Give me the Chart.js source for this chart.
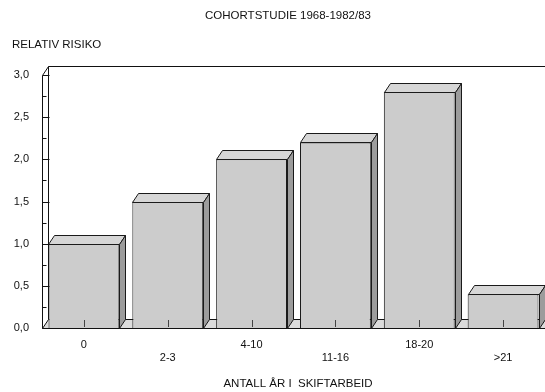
<!DOCTYPE html>
<html>
<head>
<meta charset="utf-8">
<script src="https://cdn.jsdelivr.net/npm/chart.js@4/dist/chart.umd.min.js"></script>
<style>
  html, body { margin: 0; padding: 0; background: #fff; }
  #wrap { width: 545px; height: 392px; }
</style>
</head>
<body>
<div id="wrap"><canvas id="chart" width="545" height="392"></canvas></div>
<script>
// Data
const chartTitle = 'COHORTSTUDIE 1968-1982/83';
const yTitle = 'RELATIV RISIKO';
const xTitle = 'ANTALL ÅR I  SKIFTARBEID';
const categories = ['0', '2-3', '4-10', '11-16', '18-20', '>21'];
const relativeRisk = [1.0, 1.5, 2.0, 2.2, 2.8, 0.4];
const yTickValues = [0, 0.5, 1.0, 1.5, 2.0, 2.5, 3.0];

const FONT = '"Liberation Sans", Arial, sans-serif';
const depth = { x: 6, y: 9 };

// tegner 3D-effekten rundt søylene (vegg, gulv, topp og side)
const pseudo3d = {
  id: 'pseudo3d',
  beforeDatasetsDraw(chart) {
    const { ctx, chartArea: a } = chart;
    const L = Math.round(a.left) + 0.5, B = Math.round(a.bottom) + 0.5, T = Math.round(a.top) + 0.5;
    ctx.save();
    ctx.lineWidth = 1;
    ctx.strokeStyle = '#111';

    // gulv
    ctx.fillStyle = '#dcdcdc';
    ctx.beginPath();
    ctx.moveTo(L, B);
    ctx.lineTo(L + depth.x, B - depth.y);
    ctx.lineTo(a.right + depth.x, B - depth.y);
    ctx.lineTo(a.right, B);
    ctx.closePath();
    ctx.fill();
    ctx.beginPath();
    ctx.moveTo(L + depth.x, B - depth.y);
    ctx.lineTo(a.right + depth.x, B - depth.y);
    ctx.moveTo(L, B);
    ctx.lineTo(a.right, B);
    ctx.stroke();

    // bakvegg
    ctx.beginPath();
    ctx.moveTo(L + depth.x, B - depth.y);
    ctx.lineTo(L + depth.x, T - depth.y);
    ctx.lineTo(a.right + depth.x, T - depth.y);
    ctx.stroke();

    // y-akse (front)
    ctx.beginPath();
    ctx.moveTo(L + depth.x, T - depth.y);
    ctx.lineTo(L, T);
    ctx.lineTo(L, B);
    ctx.lineTo(L + depth.x, B - depth.y);
    ctx.stroke();
    ctx.restore();
  },
  afterDatasetsDraw(chart) {
    const { ctx, chartArea: a } = chart;
    const meta = chart.getDatasetMeta(0);
    ctx.save();
    ctx.lineWidth = 1;
    ctx.strokeStyle = '#1a1a1a';
    meta.data.forEach(bar => {
      const p = bar.getProps(['x', 'y', 'base', 'width'], true);
      const l = Math.round(p.x - p.width / 2) + 0.5;
      const r = Math.round(p.x + p.width / 2) + 0.5;
      const t = Math.round(p.y) + 0.5;
      const b = Math.round(p.base) + 0.5;
      // topp
      ctx.fillStyle = '#d6d6d6';
      ctx.beginPath();
      ctx.moveTo(l, t);
      ctx.lineTo(l + depth.x, t - depth.y);
      ctx.lineTo(r + depth.x, t - depth.y);
      ctx.lineTo(r, t);
      ctx.closePath();
      ctx.fill();
      ctx.stroke();
      // side
      ctx.fillStyle = '#9c9c9c';
      ctx.beginPath();
      ctx.moveTo(r, t);
      ctx.lineTo(r + depth.x, t - depth.y);
      ctx.lineTo(r + depth.x, b - depth.y);
      ctx.lineTo(r, b);
      ctx.closePath();
      ctx.fill();
      ctx.stroke();
    });

    // små streker for kategoriene
    const xs = chart.scales.x;
    ctx.strokeStyle = '#444';
    categories.forEach((c, i) => {
      const x = Math.round(xs.getPixelForTick(i)) + 0.5;
      ctx.beginPath();
      ctx.moveTo(x, a.bottom - 8);
      ctx.lineTo(x, a.bottom - 1);
      ctx.stroke();
    });

    // y-streker (store og små)
    const ys = chart.scales.y;
    const L = Math.round(a.left) + 0.5;
    ctx.strokeStyle = '#111';
    yTickValues.forEach((v, i) => {
      const y = Math.round(ys.getPixelForValue(v)) + 0.5;
      ctx.beginPath();
      ctx.moveTo(L, y);
      ctx.lineTo(L + 7, y);
      ctx.stroke();
      if (i < yTickValues.length - 1) {
        const ym = Math.round(ys.getPixelForValue((v + yTickValues[i + 1]) / 2)) + 0.5;
        ctx.beginPath();
        ctx.moveTo(L, ym);
        ctx.lineTo(L + 4, ym);
        ctx.stroke();
      }
    });
    ctx.restore();
  },
  afterDraw(chart) {
    const { ctx } = chart;
    ctx.save();
    ctx.fillStyle = '#111';
    ctx.textBaseline = 'middle';
    ctx.font = '11.5px ' + FONT;
    ctx.textAlign = 'center';
    ctx.fillText(chartTitle, 288, 16);
    ctx.fillText(xTitle, 298, 384);
    ctx.textAlign = 'left';
    ctx.fillText(yTitle, 12, 45);
    ctx.restore();
  }
};

new Chart(document.getElementById('chart'), {
  type: 'bar',
  data: {
    labels: categories,
    datasets: [{
      data: relativeRisk,
      backgroundColor: '#cccccc',
      borderColor: '#1a1a1a',
      borderWidth: 1,
      borderSkipped: 'start',
      barPercentage: 0.845,
      categoryPercentage: 1
    }]
  },
  options: {
    responsive: false,
    animation: false,
    devicePixelRatio: 1,
    layout: { padding: { top: 75, left: 0, right: 0, bottom: 0 } },
    plugins: {
      legend: { display: false },
      title: { display: false },
      tooltip: { enabled: false }
    },
    scales: {
      x: {
        grid: { display: false, drawTicks: false },
        border: { display: false },
        ticks: {
          color: '#111',
          font: { family: FONT, size: 11 },
          padding: 10,
          maxRotation: 0,
          autoSkip: false,
          callback: (v, i) => i % 2 ? ['', categories[i]] : categories[i]
        },
        afterFit: s => { s.height = 64; }
      },
      y: {
        min: 0,
        max: 3,
        grid: { display: false, drawTicks: false },
        border: { display: false },
        afterBuildTicks: s => { s.ticks = yTickValues.map(v => ({ value: v })); },
        ticks: {
          color: '#111',
          font: { family: FONT, size: 11 },
          padding: 13,
          callback: v => v.toFixed(1).replace('.', ',')
        },
        afterFit: s => { s.width = 42; }
      }
    }
  },
  plugins: [pseudo3d]
});
</script>
</body>
</html>
